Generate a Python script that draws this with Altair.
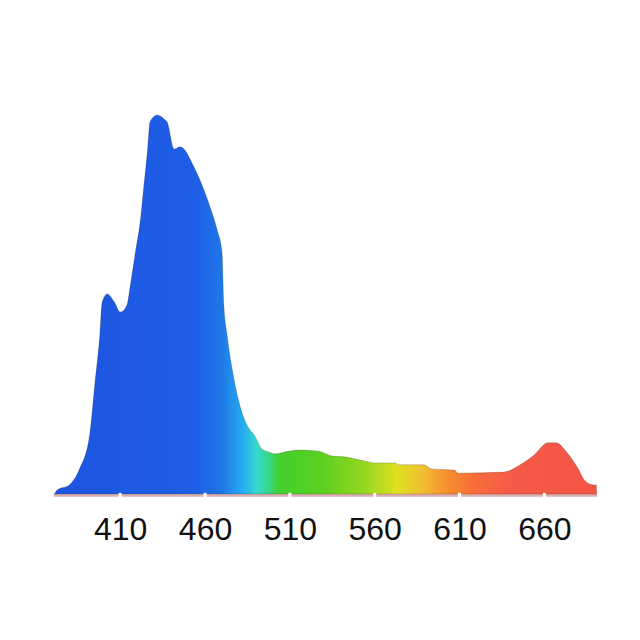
import altair as alt
import pandas as pd

wavelength = [371.2, 373, 380, 386, 392, 395, 398, 399.4, 402.4, 406.5, 410, 414, 416, 419, 422,
              424, 426, 427.6, 431.8, 436.5, 437.6, 441.8, 445.3, 454, 462, 467, 470, 471, 473,
              476, 480, 486, 489, 493.5, 497.6, 501, 507, 515, 527, 535, 542, 554, 560, 572,
              574, 589, 593.5, 607, 609, 636, 646.5, 654, 662, 667, 673, 680, 683.5, 689, 690.6, 690.8]
intensity = [0, 1.1, 2.4, 6.6, 15.6, 28.8, 42.0, 50.7, 52.8, 50.7, 48.0, 49.9, 55.1, 63.9, 72.6,
             81.5, 90.2, 98.2, 100, 98.7, 98.2, 91.0, 91.6, 85.8, 77.0, 69.9, 63.9, 50.7, 42.0,
             33.0, 24.3, 17.2, 15.6, 11.9, 11.1, 10.6, 11.1, 11.6, 11.3, 10.0, 9.8, 8.7, 8.2, 8.2,
             7.7, 7.7, 6.6, 6.3, 5.5, 5.8, 7.9, 10.3, 13.5, 13.5, 11.1, 6.6, 3.7, 2.4, 2.4, 0]
tick_values = [410, 460, 510, 560, 610, 660]
x_range = [371, 691]

spectrum = pd.DataFrame({"nm": wavelength, "v": intensity})
ticks = pd.DataFrame({"nm": tick_values})
base_df = pd.DataFrame({"nm": [x_range[0]], "b": [x_range[1]]})

xscale = alt.Scale(domain=x_range, nice=False, zero=False)
yscale = alt.Scale(domain=[0, 100], nice=False)
xaxis = alt.Axis(values=tick_values, domain=False, ticks=False, labelFontSize=32,
                 labelFont="Liberation Sans", labelColor="#111111", labelPadding=20,
                 grid=False, title=None)

stops = [
    (0.0, "#1d55e0"), (0.2625, "#1f5ee6"), (0.309, "#1f78e8"), (0.347, "#25aaf0"),
    (0.372, "#35d8d0"), (0.394, "#38d890"), (0.4125, "#40d030"), (0.497, "#5ed020"),
    (0.575, "#98d820"), (0.631, "#e0e020"), (0.678, "#f0c030"), (0.722, "#f89030"),
    (0.769, "#f87038"), (0.841, "#f65a48"), (1.0, "#f45545"),
]
grad = {"gradient": "linear", "x1": 0, "x2": 1, "y1": 0, "y2": 0,
        "stops": [{"offset": o, "color": c} for o, c in stops]}

area = alt.Chart(spectrum).mark_area(fill=grad, interpolate="monotone",
                                     stroke="#000000", strokeOpacity=0.18, strokeWidth=1).encode(
    x=alt.X("nm:Q", scale=xscale, axis=xaxis),
    y=alt.Y("v:Q", scale=yscale, axis=None),
)

stripe = alt.Chart(base_df).mark_rule(color="#dcaeae", strokeWidth=3).encode(
    x=alt.X("nm:Q", scale=xscale, axis=xaxis), x2="b:Q",
    y=alt.YDatum(-0.35, scale=yscale, axis=None),
)
gaps = alt.Chart(ticks).mark_rule(color="white", strokeWidth=3).encode(
    x=alt.X("nm:Q", scale=xscale, axis=xaxis),
    y=alt.YDatum(0.3, scale=yscale, axis=None), y2=alt.Y2Datum(-1.2),
)

chart = alt.layer(stripe, area, gaps).properties(
    width=543, height=379,
    padding={"left": 44, "top": 105, "right": 20, "bottom": 20},
).configure_view(strokeWidth=0)

chart.save("out.html", embed_options={"renderer": "svg", "actions": False})
